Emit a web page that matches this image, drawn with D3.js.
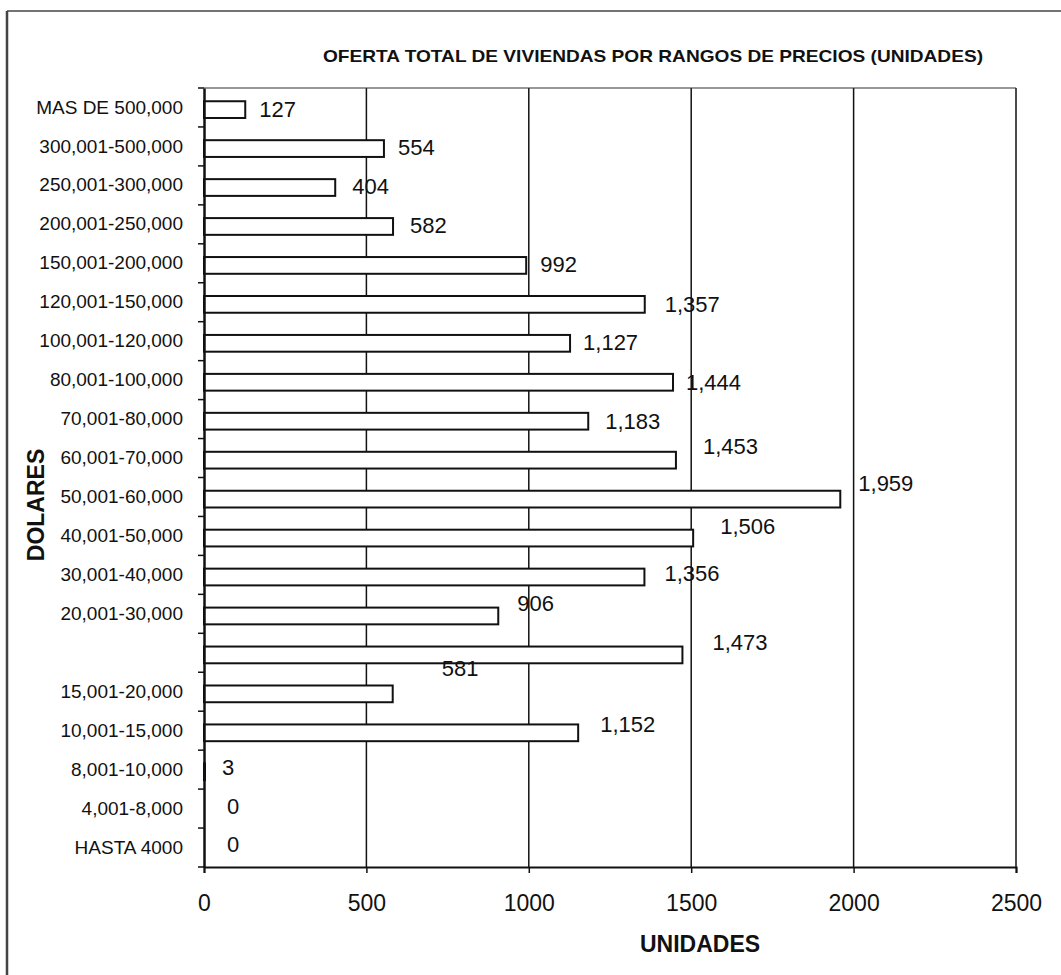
<!DOCTYPE html>
<html>
<head>
<meta charset="utf-8">
<script src="https://cdn.jsdelivr.net/npm/d3@7"></script>
<style>
  html, body { margin: 0; padding: 0; background: #fff; }
  svg { display: block; }
  text { font-family: Arial, "Liberation Sans", sans-serif; fill: #111; }
</style>
</head>
<body>
<script>
// ---- data ----
const title = "OFERTA TOTAL DE VIVIENDAS POR RANGOS DE PRECIOS (UNIDADES)";
const categories = ["MAS DE 500,000","300,001-500,000","250,001-300,000","200,001-250,000",
  "150,001-200,000","120,001-150,000","100,001-120,000","80,001-100,000","70,001-80,000",
  "60,001-70,000","50,001-60,000","40,001-50,000","30,001-40,000","20,001-30,000","",
  "15,001-20,000","10,001-15,000","8,001-10,000","4,001-8,000","HASTA 4000"];
const values = [127,554,404,582,992,1357,1127,1444,1183,1453,1959,1506,1356,906,1473,581,1152,3,0,0];
const xTicks = [0,500,1000,1500,2000,2500];
const xAxisTitle = "UNIDADES";
const yAxisTitle = "DOLARES";

// ---- layout (label nudges as placed in the original) ----
const labelDx = [14,14,17,17,14,20,13,13,17,27,18,27,20,19,30,49,22,17,23,23];
const labelDy = [-1,-1,-1,-1,-1,0,-1,0,0,-14,-16,-12,-4,-13,-13,-26,-9,-5,-5,-6];

const W = 1061, H = 975;
const pLeft = 204, pRight = 1016, pTop = 88, pBottom = 867;

const svg = d3.select("body").append("svg").attr("width", W).attr("height", H);

// outer frame (scan edge)
svg.append("line").attr("x1",7).attr("x2",W).attr("y1",11).attr("y2",11)
  .attr("stroke","#444").attr("stroke-width",1.5);
svg.append("line").attr("x1",7).attr("x2",7).attr("y1",11).attr("y2",H)
  .attr("stroke","#444").attr("stroke-width",2.5);

const x = d3.scaleLinear().domain([0,2500]).range([pLeft,pRight]);
const y = d3.scaleBand().domain(d3.range(categories.length)).range([pTop,pBottom]).padding(0);

// gridlines
svg.append("g").selectAll("line").data(xTicks.slice(1)).join("line")
  .attr("x1", d => x(d)).attr("x2", d => x(d)).attr("y1", pTop).attr("y2", pBottom)
  .attr("stroke","#111").attr("stroke-width",1.5);
// top border
svg.append("line").attr("x1",pLeft).attr("x2",pRight).attr("y1",pTop).attr("y2",pTop)
  .attr("stroke","#333").attr("stroke-width",1.2);

// bars
const bw = y.bandwidth();
svg.append("g").selectAll("rect").data(values).join("rect")
  .attr("x", x(0))
  .attr("y", (d,i) => y(i) + bw*0.34)
  .attr("width", d => x(d) - x(0))
  .attr("height", bw*0.43)
  .attr("fill","#fff").attr("stroke","#111").attr("stroke-width",2);

// x axis
const xAxis = d3.axisBottom(x).tickValues(xTicks).tickSize(6).tickPadding(22).tickFormat(d3.format("d"));
const gx = svg.append("g").attr("transform",`translate(0,${pBottom})`).call(xAxis);
gx.select(".domain").attr("stroke","#111").attr("stroke-width",2);
gx.selectAll(".tick line").attr("stroke","#111").attr("stroke-width",1.5);
gx.selectAll(".tick text").attr("font-size",23).attr("fill","#111")
  .style("font-family","Arial, 'Liberation Sans', sans-serif");

// y axis
const yAxis = d3.axisLeft(y).tickSize(0).tickPadding(21).tickFormat(i => categories[i]);
const gy = svg.append("g").attr("transform",`translate(${pLeft},0)`).call(yAxis);
gy.select(".domain").attr("stroke","#111").attr("stroke-width",2.5);
gy.selectAll(".tick text").attr("font-size",19).attr("fill","#222")
  .style("font-family","Arial, 'Liberation Sans', sans-serif");
// boundary ticks between categories
svg.append("g").selectAll("line").data(d3.range(categories.length + 1)).join("line")
  .attr("x1", pLeft - 6).attr("x2", pLeft)
  .attr("y1", i => pTop + i*bw).attr("y2", i => pTop + i*bw)
  .attr("stroke","#111").attr("stroke-width",1.5);

// value labels
const fmt = d3.format(",");
svg.append("g").selectAll("text").data(values).join("text")
  .attr("x", (d,i) => x(d) + labelDx[i])
  .attr("y", (d,i) => y(i) + bw*0.555 + labelDy[i])
  .attr("dy","0.36em")
  .attr("font-size",22)
  .text(d => fmt(d));

// title
svg.append("text").attr("x",323).attr("y",62)
  .attr("font-size",17).attr("font-weight","bold")
  .attr("textLength",660).attr("lengthAdjust","spacingAndGlyphs")
  .text(title);

// axis titles
svg.append("text").attr("x",700).attr("y",952).attr("text-anchor","middle")
  .attr("font-size",23).attr("font-weight","bold").text(xAxisTitle);
svg.append("text").attr("transform","translate(44,505) rotate(-90)")
  .attr("text-anchor","middle").attr("font-size",23).attr("font-weight","bold").text(yAxisTitle);
</script>
</body>
</html>
